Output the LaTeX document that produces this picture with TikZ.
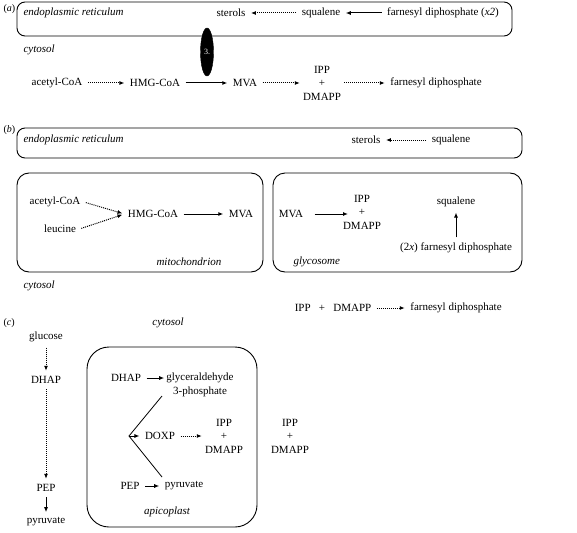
\documentclass[tikz,border=0pt]{standalone}
\usepackage{fontspec}
\setmainfont{Liberation Serif}
\usepackage{tikz}
\usetikzlibrary{arrows.meta, shapes.geometric}

\begin{document}
\begin{tikzpicture}[x=1pt, y=-1pt, font=\fontsize{11}{13.5}\selectfont,
        comp/.style = {draw, line width=0.9pt, rounded corners=8pt},
        lab/.style = {font=\fontsize{11}{13.5}\selectfont\itshape, anchor=west},
        tag/.style = {font=\fontsize{10}{12}\selectfont, anchor=west},
        stack/.style = {align=center, inner sep=1pt},
        solidarr/.style = {-{Latex[length=5pt,width=4pt]}, line width=1pt, shorten >=2pt, shorten <=2pt},
        dotarr/.style = {-{Latex[length=5pt,width=4pt]}, densely dotted, line width=1pt, shorten >=2pt, shorten <=2pt}]
    \useasboundingbox (0,0) rectangle (577,532);

    % (a)
    \node[tag] (tagA) at (0,9) {(\textit{a})};
    \draw[comp] (17,2) rectangle (512,36);
    \node[lab] (erA) at (20,13) {endoplasmic reticulum};
    \node (sterA) at (231,13) {sterols};
    \node (squA) at (321,13) {squalene};
    \node (fppA) at (443,13) {farnesyl diphosphate (\textit{x2})};
    \path[dotarr] (squA) edge (sterA);
    \path[solidarr] (fppA) edge (squA);

    \node[draw, ellipse, fill=black, minimum width=13pt, minimum height=48pt, inner sep=0pt,
          text=white, font=\fontsize{8}{9}\selectfont] (inhib) at (207,52) {3.};
    \node[lab] (cytA) at (20,50) {cytosol};

    \node (acoA) at (57,83) {acetyl-CoA};
    \node (hmgA) at (155,83) {HMG-CoA};
    \node (mvaA) at (245,83) {MVA};
    \node[stack] (ippA) at (322,83) {IPP\\+\\DMAPP};
    \node (fppA2) at (436,83) {farnesyl diphosphate};
    \path[dotarr] (acoA) edge (hmgA);
    \path[solidarr] (hmgA) edge (mvaA);
    \path[dotarr] (mvaA) edge (ippA);
    \path[dotarr] (ippA) edge (fppA2);

    % (b)
    \node[tag] (tagB) at (0,130) {(\textit{b})};
    \draw[comp] (17,128) rectangle (522,158);
    \node[lab] (erB) at (20,140) {endoplasmic reticulum};
    \node (sterB) at (366,140) {sterols};
    \node (squB) at (451,140) {squalene};
    \path[dotarr] (squB) edge (sterB);

    \draw[comp, rounded corners=12pt] (17,173) rectangle (263,272);
    \draw[comp, rounded corners=12pt] (273,173) rectangle (522,272);
    \node (acoB) at (55,202) {acetyl-CoA};
    \node (leuB) at (60,229) {leucine};
    \node (hmgB) at (153,214) {HMG-CoA};
    \node (mvaB) at (241,214) {MVA};
    \path[dotarr] (acoB.east) edge (hmgB.west);
    \path[dotarr] (leuB.east) edge (hmgB.west);
    \path[solidarr] (hmgB) edge (mvaB);
    \node[lab] (mito) at (153,262) {mitochondrion};

    \node (mvaG) at (291,214) {MVA};
    \node[stack] (ippG) at (362,212) {IPP\\+\\DMAPP};
    \node (squG) at (456,202) {squalene};
    \node (fppG) at (456,248) {(2\textit{x}) farnesyl diphosphate};
    \draw[solidarr, shorten <=8pt] (mvaG.east) -- ([xshift=-12pt]ippG.center |- mvaG.east);
    \path[solidarr] (fppG) edge (squG);
    \node[lab] (glyc) at (290,262) {glycosome};

    \node[lab] (cytB) at (20,286) {cytosol};
    \node (ippB) at (333,308) {IPP\hspace{0.75em}+\hspace{0.75em}DMAPP};
    \node (fppB) at (456,308) {farnesyl diphosphate};
    \path[dotarr] (ippB) edge (fppB);

    % (c)
    \node[tag] (tagC) at (0,323) {(\textit{c})};
    \node[font=\fontsize{11}{13.5}\selectfont\itshape] (cytC) at (168,323) {cytosol};
    \node (gluc) at (46,337) {glucose};
    \node (dhapC) at (46,380) {DHAP};
    \node (pepC) at (46,488) {PEP};
    \node (pyrC) at (46,522) {pyruvate};
    \path[dotarr] (gluc) edge (dhapC);
    \path[dotarr] (dhapC) edge (pepC);
    \path[solidarr] (pepC) edge (pyrC);

    \draw[comp, rounded corners=22pt] (87,347) rectangle (257,527);
    \node (dhapI) at (126,378) {DHAP};
    \node[stack, inner sep=0pt] (gapI) at (200,385) {glyceraldehyde\\3-phosphate};
    \node (pepI) at (130,486) {PEP};
    \node (pyrI) at (184,486) {pyruvate};
    \path[solidarr] (dhapI) edge (gapI.west |- dhapI);
    \path[solidarr] (pepI) edge (pyrI);
    \coordinate (fork) at (129,436);
    \node (doxp) at (160,436) {DOXP};
    \node[stack] (ippI) at (224,436) {IPP\\+\\DMAPP};
    \draw[line width=0.8pt] (162,396) -- (fork) -- (162,477);
    \path[solidarr, shorten <=0pt] (fork) edge (doxp);
    \path[dotarr] (doxp) edge (ippI);
    \node[lab, anchor=center] (apico) at (167,512) {apicoplast};

    \node[stack] (ippO) at (290,436) {IPP\\+\\DMAPP};
\end{tikzpicture}
\end{document}
